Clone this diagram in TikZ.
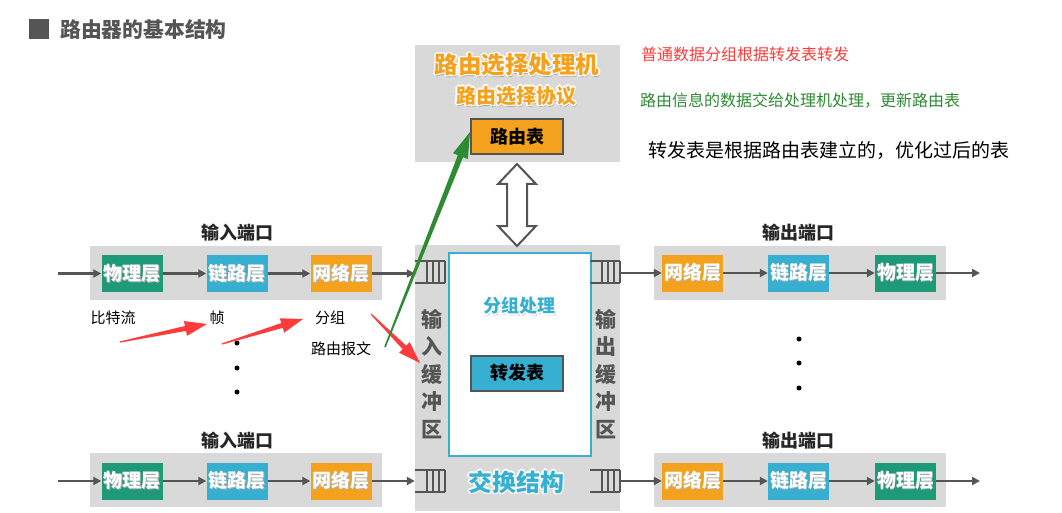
\documentclass[tikz,border=0pt]{standalone}
\usepackage{fontspec}
\setmainfont{Noto Sans CJK SC}
\usetikzlibrary{arrows.meta,calc}
\definecolor{phy}{HTML}{1E9A78}
\definecolor{lnk}{HTML}{36AFD0}
\definecolor{net}{HTML}{F4A21E}
\definecolor{bg}{HTML}{D9D9D9}
\definecolor{dk}{HTML}{555555}
\definecolor{rd}{HTML}{FF3B3B}
\definecolor{gn}{HTML}{2E8B34}
\newcommand\hc[3]{\rlap{\kern#1\raise#2\hbox{#3}}}
\newcommand\halo[2]{{\color{black!35}\hc{1.2pt}{-1.8pt}{#2}}{\color{white}\hc{1.4pt}{0pt}{#2}\hc{-1.4pt}{0pt}{#2}\hc{0pt}{1.4pt}{#2}\hc{0pt}{-1.4pt}{#2}\hc{1pt}{1pt}{#2}\hc{-1pt}{1pt}{#2}\hc{1pt}{-1pt}{#2}\hc{-1pt}{-1pt}{#2}}\textcolor{#1}{#2}}
\newcommand\shadowed[1]{{\color{black!30}\hc{0.8pt}{-0.8pt}{#1}}#1}
\newcommand\taperarrow[7]{% from, to, color, head length, head half width, shaft half width, tail half width
  \coordinate (hb) at ($(#2)!#4!(#1)$);
  \fill[#3] ($(#1)!#7!90:(#2)$) -- ($(hb)!#6!90:(#2)$) -- ($(hb)!#5!90:(#2)$) -- (#2)
    -- ($(hb)!#5!-90:(#2)$) -- ($(hb)!#6!-90:(#2)$) -- ($(#1)!#7!-90:(#2)$) -- cycle;}
\newcommand\bufdraw[1]{%
  \draw[bufline] (#1.north west) -- (#1.north east) (#1.south west) -- (#1.south east);
  \foreach \f in {0.4,0.6,0.8,1} \draw[bufline] ($(#1.north west)!\f!(#1.north east)$) -- ($(#1.south west)!\f!(#1.south east)$);}
\tikzset{
  layer/.style={minimum width=61pt, minimum height=37pt, inner sep=0pt, text=white,
    font=\bfseries\fontsize{19}{19}\selectfont},
  phybox/.style={layer, fill=phy},
  lnkbox/.style={layer, fill=lnk},
  netbox/.style={layer, fill=net},
  bgbox/.style={fill=bg, inner sep=0pt},
  portlbl/.style={inner sep=0pt, text=black!85, font=\bfseries\fontsize{18}{18}\selectfont},
  flow/.style={draw=dk, line width=2.4pt, -{Triangle[length=8pt,width=8pt]}},
  bufline/.style={draw=dk, line width=1.6pt},
  buf/.style={minimum width=30pt, minimum height=22pt, inner sep=0pt},
  vtext/.style={align=center, inner sep=0pt, text=dk, font=\bfseries\fontsize{21}{27.5}\selectfont},
  tbl/.style={draw=dk, line width=2pt, minimum width=92pt, minimum height=35pt, inner sep=0pt,
    font=\bfseries\fontsize{18}{18}\selectfont, text=black},
  headtxt/.style={inner sep=0pt, font=\bfseries\fontsize{#1}{#1}\selectfont},
  plain/.style={inner sep=0pt, font=\fontsize{15}{15}\selectfont},
  note/.style={inner sep=0pt, font=\fontsize{16}{16}\selectfont},
  dotc/.style={circle, fill=black, inner sep=0pt, minimum size=5pt},
}
\begin{document}
\begin{tikzpicture}[x=1pt,y=-1pt]
\useasboundingbox (0,0) rectangle (1062,513);
\fill[white] (0,0) rectangle (1062,513);

% title
\node[fill=dk, minimum size=20pt, inner sep=0pt] (tsq) at (39,29) {};
\node[inner sep=0pt, text=dk, font=\bfseries\fontsize{20.8}{20.8}\selectfont, anchor=west] (title) at (60,30) {路由器的基本结构};

% processor
\node[bgbox, minimum width=205pt, minimum height=117pt] (proc) at (517.5,103.5) {};
\node[headtxt=23.5] (proct) at (517,65) {\halo{net}{路由选择处理机}};
\node[headtxt=20] (procp) at (516,96) {\halo{net}{路由选择协议}};
\node[tbl, fill=net] (rtab) at (517,137) {路由表};

% notes
\node[note, text=rd, anchor=west] (n1) at (641,54) {普通数据分组根据转发表转发};
\node[note, text=gn, anchor=west] (n2) at (640,101) {路由信息的数据交给处理机处理，更新路由表};
\node[inner sep=0pt, font=\fontsize{19}{19}\selectfont, anchor=west] (n3) at (648,150) {转发表是根据路由表建立的，优化过后的表};

% switch fabric
\node[bgbox, minimum width=205pt, minimum height=266pt] (sw) at (517.5,378) {};
\node[draw=lnk, line width=2pt, fill=white, minimum width=142pt, minimum height=203pt, inner sep=0pt] (inner) at (520,354.5) {};
\node[headtxt=18] (grp) at (519,306) {\halo{lnk}{分组处理}};
\node[tbl, fill=lnk] (ftab) at (517,373) {转发表};
\node[headtxt=24] (swt) at (516,482) {\halo{lnk}{交换结构}};
\node[vtext] (ibt) at (432,374) {输\\入\\缓\\冲\\区};
\node[vtext] (obt) at (606,374) {输\\出\\缓\\冲\\区};

% double arrow
\draw[dk, line width=2pt, fill=white, line join=miter]
  (517,164) -- (536,184) -- (527,184) -- (527,226) -- (536,226) -- (517,246)
  -- (498,226) -- (507,226) -- (507,184) -- (498,184) -- cycle;

% buffers
\node[buf] (bi1) at (430,272) {};
\node[buf] (bi2) at (430,481) {};
\node[buf] (bo1) at (605,272) {};
\node[buf] (bo2) at (605,481) {};
\bufdraw{bi1}\bufdraw{bi2}\bufdraw{bo1}\bufdraw{bo2}

% input ports
\node[bgbox, minimum width=292pt, minimum height=54pt] (inp1) at (236,273) {};
\node[portlbl] (inl1) at (237,233) {输入端口};
\node[phybox] (ip1) at (132,273.5) {\shadowed{物理层}};
\node[lnkbox] (il1) at (237,273.5) {\shadowed{链路层}};
\node[netbox] (in1) at (341,273.5) {\shadowed{网络层}};
\coordinate (is1) at (58,273.5);
\draw[flow] (is1) -- (ip1.west);
\draw[flow] (ip1.east) -- (il1.west);
\draw[flow] (il1.east) -- (in1.west);
\draw[flow] (in1.east) -- (bi1.west |- in1.east);

\node[bgbox, minimum width=292pt, minimum height=54pt] (inp2) at (236,480) {};
\node[portlbl] (inl2) at (237,441) {输入端口};
\node[phybox] (ip2) at (132,481) {\shadowed{物理层}};
\node[lnkbox] (il2) at (237,481) {\shadowed{链路层}};
\node[netbox] (in2) at (341,481) {\shadowed{网络层}};
\coordinate (is2) at (58,481);
\draw[flow] (is2) -- (ip2.west);
\draw[flow] (ip2.east) -- (il2.west);
\draw[flow] (il2.east) -- (in2.west);
\draw[flow] (in2.east) -- (bi2.west |- in2.east);

% output ports
\node[bgbox, minimum width=292pt, minimum height=54pt] (outp1) at (800,273) {};
\node[portlbl] (outl1) at (798,233) {输出端口};
\node[netbox] (on1) at (692.5,273) {\shadowed{网络层}};
\node[lnkbox] (ol1) at (798.5,273) {\shadowed{链路层}};
\node[phybox] (op1) at (905.5,273) {\shadowed{物理层}};
\coordinate (oe1) at (980,273);
\draw[flow] (bo1.east |- on1.west) -- (on1.west);
\draw[flow] (on1.east) -- (ol1.west);
\draw[flow] (ol1.east) -- (op1.west);
\draw[flow] (op1.east) -- (oe1);

\node[bgbox, minimum width=292pt, minimum height=54pt] (outp2) at (800,480) {};
\node[portlbl] (outl2) at (798,441) {输出端口};
\node[netbox] (on2) at (692.5,481) {\shadowed{网络层}};
\node[lnkbox] (ol2) at (798.5,481) {\shadowed{链路层}};
\node[phybox] (op2) at (905.5,481) {\shadowed{物理层}};
\coordinate (oe2) at (980,481);
\draw[flow] (bo2.east |- on2.west) -- (on2.west);
\draw[flow] (on2.east) -- (ol2.west);
\draw[flow] (ol2.east) -- (op2.west);
\draw[flow] (op2.east) -- (oe2);

% dots
\node[dotc] (d1) at (237,343) {};
\node[dotc] (d2) at (237,368) {};
\node[dotc] (d3) at (237,392) {};
\node[dotc] (d4) at (799,339) {};
\node[dotc] (d5) at (799,363) {};
\node[dotc] (d6) at (799,388) {};

% labels
\node[plain] (lbit) at (113,318) {比特流};
\node[plain] (lfrm) at (217,318) {帧};
\node[plain] (lpkt) at (330,318) {分组};
\node[plain] (lmsg) at (341,349) {路由报文};

% red and green arrows
\coordinate (r1a) at (120,342); \coordinate (r1b) at (207,324);
\coordinate (r2a) at (222,344); \coordinate (r2b) at (303,319);
\coordinate (r3a) at (371,314); \coordinate (r3b) at (420,363);
\coordinate (ga) at (385,347);  \coordinate (gb) at (470,132);
\taperarrow{r1a}{r1b}{rd}{22pt}{7.5pt}{2.5pt}{0.6pt}
\taperarrow{r2a}{r2b}{rd}{22pt}{7.5pt}{2.5pt}{0.6pt}
\taperarrow{r3a}{r3b}{rd}{22pt}{7.5pt}{2.5pt}{0.6pt}
\taperarrow{ga}{gb}{gn}{26pt}{8pt}{2.8pt}{0.8pt}
\end{tikzpicture}
\end{document}
